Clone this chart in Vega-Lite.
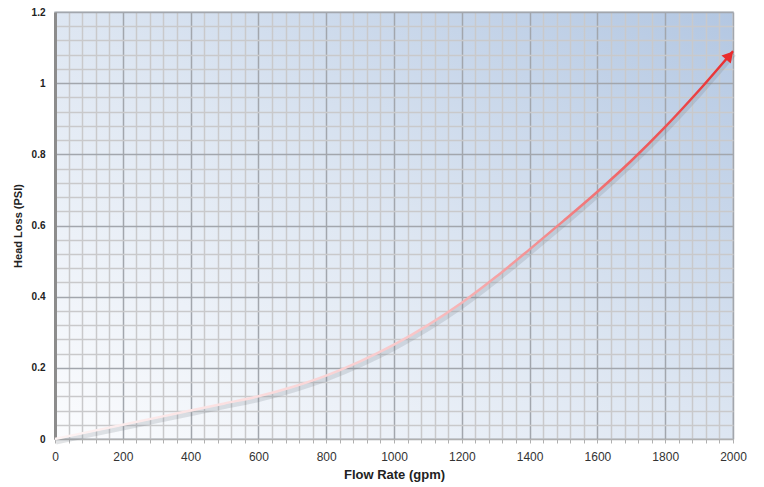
{
  "$schema": "https://vega.github.io/schema/vega-lite/v6.json",
  "autosize": "none",
  "width": 678,
  "height": 427,
  "padding": {"left": 55, "top": 12, "right": 31, "bottom": 48},
  "background": "white",
  "config": {
    "font": "Liberation Sans",
    "view": {
      "stroke": "#c8ccd2",
      "strokeWidth": 1.5,
      "fill": {
        "gradient": "linear",
        "x1": 0, "y1": 1, "x2": 1, "y2": 0,
        "stops": [
          {"offset": 0, "color": "#fbfcfe"},
          {"offset": 0.5, "color": "#dde6f2"},
          {"offset": 1, "color": "#b3c7e2"}
        ]
      }
    }
  },
  "datasets": {
    "curve": [
      {"flow": 0, "loss": 0},
      {"flow": 100, "loss": 0.02},
      {"flow": 200, "loss": 0.04},
      {"flow": 300, "loss": 0.06},
      {"flow": 400, "loss": 0.08},
      {"flow": 500, "loss": 0.1},
      {"flow": 600, "loss": 0.12},
      {"flow": 700, "loss": 0.146},
      {"flow": 800, "loss": 0.178},
      {"flow": 900, "loss": 0.218},
      {"flow": 1000, "loss": 0.265},
      {"flow": 1100, "loss": 0.32},
      {"flow": 1200, "loss": 0.383},
      {"flow": 1300, "loss": 0.455},
      {"flow": 1400, "loss": 0.533},
      {"flow": 1500, "loss": 0.613},
      {"flow": 1600, "loss": 0.695},
      {"flow": 1700, "loss": 0.782},
      {"flow": 1800, "loss": 0.877},
      {"flow": 1900, "loss": 0.98},
      {"flow": 2000, "loss": 1.09}
    ],
    "tip": [{"flow": 1990, "loss": 1.078}]
  },
  "encoding": {
    "x": {
      "field": "flow", "type": "quantitative",
      "scale": {"domain": [0, 2000], "nice": false, "zero": false},
      "axis": {
        "values": [0,40,80,120,160,200,240,280,320,360,400,440,480,520,560,600,640,680,720,760,800,840,880,920,960,1000,1040,1080,1120,1160,1200,1240,1280,1320,1360,1400,1440,1480,1520,1560,1600,1640,1680,1720,1760,1800,1840,1880,1920,1960,2000],
        "labelExpr": "datum.value % 200 === 0 ? datum.label : ''",
        "format": "d",
        "grid": true,
        "gridColor": {"condition": {"test": "datum.value % 200 === 0", "value": "#a2a6ad"}, "value": "#c9c9cb"},
        "gridWidth": 1.5,
        "gridOpacity": 1,
        "tickColor": "#b0b0b0",
        "tickSize": 4,
        "domainColor": "#b0b0b0",
        "labelFontSize": 12,
        "labelColor": "#333333",
        "labelPadding": 8,
        "labelFlush": false,
        "labelOverlap": false,
        "title": "Flow Rate (gpm)",
        "titleFontSize": 13,
        "titleFontWeight": "bold",
        "titleColor": "#222222",
        "titlePadding": 6
      }
    },
    "y": {
      "field": "loss", "type": "quantitative",
      "scale": {"domain": [0, 1.2], "nice": false, "zero": false},
      "axis": {
        "values": [0,0.04,0.08,0.12,0.16,0.2,0.24,0.28,0.32,0.36,0.4,0.44,0.48,0.52,0.56,0.6,0.64,0.68,0.72,0.76,0.8,0.84,0.88,0.92,0.96,1,1.04,1.08,1.12,1.16,1.2],
        "format": "~g",
        "labelExpr": "round(datum.value * 100) % 20 === 0 ? datum.label : ''",
        "grid": true,
        "gridColor": {"condition": {"test": "round(datum.value * 100) % 20 === 0", "value": "#a2a6ad"}, "value": "#c9c9cb"},
        "gridWidth": 1.5,
        "gridOpacity": 1,
        "ticks": false,
        "domainColor": "#8c8c8c",
        "domainWidth": 3,
        "labelFontSize": 10,
        "labelFontWeight": "bold",
        "labelColor": "#222222",
        "labelPadding": 10,
        "labelFlush": false,
        "labelOverlap": false,
        "title": "Head Loss (PSI)",
        "titleFontSize": 11,
        "titleFontWeight": "bold",
        "titleColor": "#222222",
        "titlePadding": 8
      }
    }
  },
  "layer": [
    {
      "data": {"name": "curve"},
      "mark": {"type": "line", "stroke": "#6d7680", "strokeWidth": 5, "opacity": 0.2, "yOffset": 3, "xOffset": 1, "interpolate": "monotone"}
    },
    {
      "data": {"name": "curve"},
      "mark": {
        "type": "line",
        "strokeWidth": 2.5,
        "interpolate": "monotone",
        "stroke": {
          "gradient": "linear",
          "x1": 0, "y1": 1, "x2": 1, "y2": 0,
          "stops": [
            {"offset": 0, "color": "#fdf4f4"},
            {"offset": 0.4, "color": "#f8c6c8"},
            {"offset": 0.75, "color": "#f06a6c"},
            {"offset": 1, "color": "#e92c2e"}
          ]
        }
      }
    },
    {
      "data": {"name": "tip"},
      "mark": {"type": "point", "shape": "triangle-up", "filled": true, "color": "#e92c2e", "opacity": 1, "size": 150, "angle": 41}
    }
  ]
}
